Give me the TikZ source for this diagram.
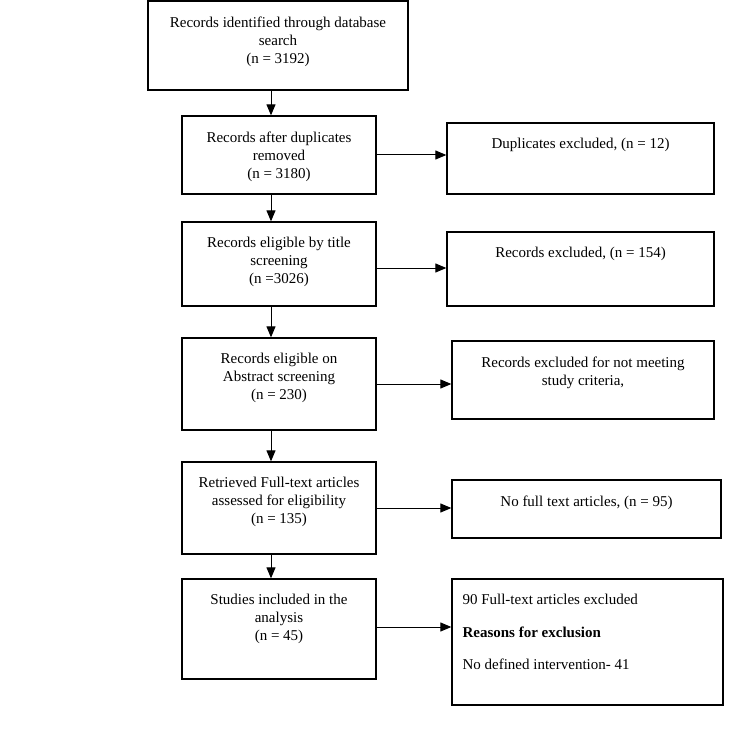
\documentclass[tikz,border=0pt]{standalone}
\usepackage{fontspec}
\setmainfont{Liberation Serif}
\usetikzlibrary{arrows.meta}
\tikzset{
  box/.style={draw=black, line width=1.3pt, rectangle, inner sep=0pt},
  txt/.style={anchor=north, align=center, inner sep=0pt, font=\fontsize{15}{18}\selectfont},
  ltxt/.style={anchor=north west, align=left, inner sep=0pt, font=\fontsize{15}{18}\selectfont},
  arr/.style={line width=1pt, -{Triangle[length=11pt,width=9pt]}},
}
\begin{document}
\begin{tikzpicture}[x=1pt,y=-1pt]
\useasboundingbox (0,0) rectangle (750,741);
% left column
\node[box, minimum width=260pt, minimum height=89pt] (b1) at (278,45.5) {};
\node[txt] (t1) at ([yshift=-16pt]b1.north) {Records identified through database\\search\\(n = 3192)};
\node[box, minimum width=194pt, minimum height=78pt] (b2) at (279,155) {};
\node[txt] (t2) at ([yshift=-16pt]b2.north) {Records after duplicates\\removed\\(n = 3180)};
\node[box, minimum width=194pt, minimum height=84pt] (b3) at (279,264) {};
\node[txt] (t3) at ([yshift=-16pt]b3.north) {Records eligible by title\\screening\\(n =3026)};
\node[box, minimum width=194pt, minimum height=92pt] (b4) at (279,384) {};
\node[txt] (t4) at ([yshift=-16pt]b4.north) {Records eligible on\\Abstract screening\\(n = 230)};
\node[box, minimum width=194pt, minimum height=92pt] (b5) at (279,508) {};
\node[txt] (t5) at ([yshift=-16pt]b5.north) {Retrieved Full-text articles\\assessed for eligibility\\(n = 135)};
\node[box, minimum width=194pt, minimum height=100pt] (b6) at (279,629) {};
\node[txt] (t6) at ([yshift=-16pt]b6.north) {Studies included in the\\analysis\\(n = 45)};
% right column
\node[box, minimum width=267pt, minimum height=71pt] (bA) at (580.5,158.5) {};
\node[txt] (tA) at ([yshift=-16pt]bA.north) {Duplicates excluded, (n = 12)};
\node[box, minimum width=267pt, minimum height=74pt] (bB) at (580.5,269) {};
\node[txt] (tB) at ([yshift=-16pt]bB.north) {Records excluded, (n = 154)};
\node[box, minimum width=262pt, minimum height=78pt] (bC) at (583,380) {};
\node[txt] (tC) at ([yshift=-16pt]bC.north) {Records excluded for not meeting\\study criteria,};
\node[box, minimum width=269pt, minimum height=58pt] (bD) at (586.5,509) {};
\node[txt] (tD) at ([yshift=-16pt]bD.north) {No full text articles, (n = 95)};
\node[box, minimum width=271pt, minimum height=126pt] (bE) at (587.5,642) {};
\node[ltxt] (tE) at ([xshift=11pt,yshift=-16pt]bE.north west) {90 Full-text articles excluded\\[14.5pt]\textbf{Reasons for exclusion}\\[14.5pt]No defined intervention- 41};
% vertical arrows
\draw[arr] ([xshift=-7pt]b1.south) -- ([xshift=-7pt]b1.south |- b2.north);
\draw[arr] ([xshift=-8pt]b2.south) -- ([xshift=-8pt]b2.south |- b3.north);
\draw[arr] ([xshift=-8pt]b3.south) -- ([xshift=-8pt]b3.south |- b4.north);
\draw[arr] ([xshift=-8pt]b4.south) -- ([xshift=-8pt]b4.south |- b5.north);
\draw[arr] ([xshift=-8pt]b5.south) -- ([xshift=-8pt]b5.south |- b6.north);
% horizontal arrows
\draw[arr] (b2.east) -- (b2.east -| bA.west);
\draw[arr] ([yshift=-4pt]b3.east) -- ([yshift=-4pt]b3.east -| bB.west);
\draw[arr] (b4.east) -- (b4.east -| bC.west);
\draw[arr] (b5.east) -- (b5.east -| bD.west);
\draw[arr] ([yshift=2pt]b6.east) -- ([yshift=2pt]b6.east -| bE.west);
\end{tikzpicture}
\end{document}
